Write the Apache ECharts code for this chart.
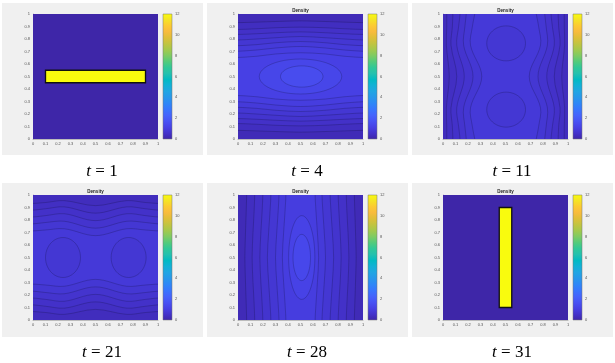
<!DOCTYPE html>
<html>
<head>
<meta charset="utf-8">
<script src="https://cdn.jsdelivr.net/npm/echarts@6/dist/echarts.min.js"></script>
<style>
  html, body { margin: 0; padding: 0; background: #fff; }
  #main { width: 615px; height: 363px; }
</style>
</head>
<body>
<div id="main"></div>
<script>
// ---------- data ----------
const timeLabels = ['1', '4', '11', '21', '28', '31'];
const colorTicks = [0, 2, 4, 6, 8, 10, 12];
const densityMax = 12;

// t = 1 and t = 31 : a bar of density 12 on an empty (0) box  [x0, y0, x1, y1]
const bar1 = [0.1, 0.45, 0.9, 0.55];
const bar31 = [0.45, 0.1, 0.55, 0.9];
const barLevel = 12;
const emptyLevel = 0;

// t = 4 : horizontal contours (heights at t4X), two ellipses in the middle
const t4X = [-0.05, 0.15, 0.3, 0.5, 0.7, 0.85, 1.05];
const t4Top = [
  [0.93, 0.935, 0.94, 0.945, 0.94, 0.935, 0.93],
  [0.875, 0.882, 0.89, 0.895, 0.89, 0.882, 0.875],
  [0.835, 0.842, 0.85, 0.857, 0.85, 0.842, 0.835],
  [0.79, 0.8, 0.81, 0.82, 0.81, 0.8, 0.79],
  [0.745, 0.755, 0.77, 0.78, 0.77, 0.755, 0.745],
  [0.7, 0.712, 0.728, 0.74, 0.728, 0.712, 0.7],
  [0.65, 0.662, 0.68, 0.69, 0.68, 0.662, 0.65]
];
const t4Bottom = [
  [0.07, 0.065, 0.06, 0.055, 0.06, 0.065, 0.07],
  [0.125, 0.118, 0.11, 0.105, 0.11, 0.118, 0.125],
  [0.165, 0.158, 0.15, 0.143, 0.15, 0.158, 0.165],
  [0.21, 0.2, 0.19, 0.18, 0.19, 0.2, 0.21],
  [0.255, 0.245, 0.23, 0.22, 0.23, 0.245, 0.255],
  [0.3, 0.288, 0.272, 0.26, 0.272, 0.288, 0.3],
  [0.35, 0.338, 0.32, 0.31, 0.32, 0.338, 0.35]
];
const t4Base = 0.25;
const t4Levels = [0.4, 0.52, 0.64, 0.76, 0.88, 1.0, 1.12];
const t4Ellipses = [[0.5, 0.5, 0.33, 0.14], [0.51, 0.5, 0.17, 0.085]]; // cx, cy, rx, ry
const t4EllipseLevels = [1.3, 1.5];

// t = 11 : vertical contours (x at t11Y), two round blobs
const t11Y = [-0.05, 0.1, 0.25, 0.5, 0.75, 0.9, 1.05];
const t11Left = [
  [0.03, 0.03, 0.027, 0.05, 0.027, 0.03, 0.03],
  [0.08, 0.075, 0.064, 0.11, 0.064, 0.075, 0.08],
  [0.14, 0.125, 0.11, 0.17, 0.11, 0.125, 0.14],
  [0.19, 0.175, 0.165, 0.24, 0.165, 0.175, 0.19],
  [0.26, 0.235, 0.22, 0.31, 0.22, 0.235, 0.26]
];
const t11Right = [
  [0.97, 0.97, 0.973, 0.95, 0.973, 0.97, 0.97],
  [0.92, 0.925, 0.936, 0.89, 0.936, 0.925, 0.92],
  [0.86, 0.875, 0.89, 0.83, 0.89, 0.875, 0.86],
  [0.81, 0.825, 0.835, 0.76, 0.835, 0.825, 0.81],
  [0.74, 0.765, 0.78, 0.69, 0.78, 0.765, 0.74]
];
const t11Base = 0.35;
const t11Levels = [0.45, 0.55, 0.65, 0.75, 0.85];
const t11Blobs = [[0.505, 0.765, 0.155, 0.14], [0.505, 0.235, 0.155, 0.14]];
const t11BlobLevels = [0.75, 0.75];

// t = 21 : horizontal contours, two round blobs side by side
const t21X = [-0.05, 0.1, 0.25, 0.5, 0.75, 0.9, 1.05];
const t21Top = [
  [0.93, 0.94, 0.955, 0.915, 0.955, 0.94, 0.93],
  [0.875, 0.89, 0.905, 0.855, 0.905, 0.89, 0.875],
  [0.82, 0.835, 0.85, 0.795, 0.85, 0.835, 0.82],
  [0.765, 0.78, 0.79, 0.735, 0.79, 0.78, 0.765],
  [0.71, 0.72, 0.73, 0.675, 0.73, 0.72, 0.71]
];
const t21Bottom = [
  [0.07, 0.06, 0.045, 0.085, 0.045, 0.06, 0.07],
  [0.125, 0.11, 0.095, 0.145, 0.095, 0.11, 0.125],
  [0.18, 0.165, 0.15, 0.205, 0.15, 0.165, 0.18],
  [0.235, 0.22, 0.21, 0.265, 0.21, 0.22, 0.235],
  [0.29, 0.28, 0.27, 0.325, 0.27, 0.28, 0.29]
];
const t21Base = 0.35;
const t21Levels = [0.45, 0.55, 0.65, 0.75, 0.85];
const t21Blobs = [[0.24, 0.5, 0.14, 0.16], [0.765, 0.5, 0.14, 0.16]];
const t21BlobLevels = [0.75, 0.75];

// t = 28 : vertical contours, tall ellipses in the middle
const t28Y = [-0.05, 0.15, 0.3, 0.5, 0.7, 0.85, 1.05];
const t28Left = [
  [0.07, 0.065, 0.06, 0.055, 0.06, 0.065, 0.07],
  [0.135, 0.128, 0.12, 0.113, 0.12, 0.128, 0.135],
  [0.2, 0.192, 0.183, 0.175, 0.183, 0.192, 0.2],
  [0.265, 0.255, 0.245, 0.235, 0.245, 0.255, 0.265],
  [0.33, 0.32, 0.31, 0.3, 0.31, 0.32, 0.33],
  [0.385, 0.375, 0.365, 0.355, 0.365, 0.375, 0.385]
];
const t28Right = [
  [0.93, 0.935, 0.94, 0.945, 0.94, 0.935, 0.93],
  [0.865, 0.872, 0.88, 0.887, 0.88, 0.872, 0.865],
  [0.8, 0.808, 0.817, 0.825, 0.817, 0.808, 0.8],
  [0.735, 0.745, 0.755, 0.765, 0.755, 0.745, 0.735],
  [0.67, 0.68, 0.69, 0.7, 0.69, 0.68, 0.67],
  [0.615, 0.625, 0.635, 0.645, 0.635, 0.625, 0.615]
];
const t28Base = 0.25;
const t28Levels = [0.4, 0.52, 0.64, 0.76, 0.88, 1.0];
const t28Ellipses = [[0.51, 0.5, 0.105, 0.335], [0.51, 0.5, 0.07, 0.185]];
const t28EllipseLevels = [1.18, 1.36];

// ---------- parula colour map ----------
const parulaStops = [
  [0, '#3e26a8'], [0.048, '#4332cb'], [0.095, '#4741e5'], [0.143, '#4852f4'],
  [0.19, '#4563fc'], [0.238, '#3875fe'], [0.286, '#2e87f7'], [0.333, '#2797eb'],
  [0.381, '#20a5e3'], [0.429, '#12b1d6'], [0.476, '#02bac3'], [0.524, '#24c1ae'],
  [0.571, '#30c898'], [0.619, '#53cb7a'], [0.667, '#7fcb62'], [0.714, '#a3c94c'],
  [0.762, '#c2c440'], [0.81, '#dfbf38'], [0.857, '#f8bb3d'], [0.905, '#fcca33'],
  [0.952, '#f5e326'], [1, '#f9fb0e']
];
function hexRgb(h) {
  return [1, 3, 5].map(i => parseInt(h.slice(i, i + 2), 16));
}
function parula(v) {
  const f = Math.max(0, Math.min(1, v / densityMax));
  for (let i = 1; i < parulaStops.length; i++) {
    const [f1, c1] = parulaStops[i];
    if (f <= f1) {
      const [f0, c0] = parulaStops[i - 1];
      const t = (f - f0) / (f1 - f0);
      const a = hexRgb(c0), b = hexRgb(c1);
      return 'rgb(' + a.map((x, k) => Math.round(x + (b[k] - x) * t)).join(',') + ')';
    }
  }
  return parulaStops[parulaStops.length - 1][1];
}

// ---------- shapes built from the arrays ----------
const LINE = 'rgba(15,15,45,0.42)';

function box(level) {
  return { pts: [[0, 0], [1, 0], [1, 1], [0, 1]], level };
}
function bar(r, level) {
  return { pts: [[r[0], r[1]], [r[2], r[1]], [r[2], r[3]], [r[0], r[3]]], level, stroke: '#111', lw: 1.3 };
}
function hBands(xs, tops, bottoms, levels) {
  const n = xs.length - 1;
  return tops.map((top, k) => {
    const bot = bottoms[k];
    const upper = xs.map((x, j) => [x, top[j]]);
    const lower = xs.map((x, j) => [x, bot[j]]).reverse();
    // run the ends far outside the box so smoothing corners are clipped off
    const pts = [[xs[0] - 0.4, top[0]], ...upper, [xs[n] + 0.4, top[n]],
      [xs[n] + 0.4, bot[n]], ...lower, [xs[0] - 0.4, bot[0]]];
    return { pts, level: levels[k], smooth: 0.35, stroke: LINE, lw: 0.55 };
  });
}
function vBands(ys, lefts, rights, levels) {
  const n = ys.length - 1;
  return lefts.map((left, k) => {
    const right = rights[k];
    const l = ys.map((y, j) => [left[j], y]);
    const r = ys.map((y, j) => [right[j], y]).reverse();
    const pts = [[left[0], ys[0] - 0.4], ...l, [left[n], ys[n] + 0.4],
      [right[n], ys[n] + 0.4], ...r, [right[0], ys[0] - 0.4]];
    return { pts, level: levels[k], smooth: 0.35, stroke: LINE, lw: 0.55 };
  });
}
function ovals(list, levels) {
  return list.map((e, k) => ({ oval: e, level: levels[k], stroke: LINE, lw: 0.55 }));
}

const panels = [
  [box(emptyLevel), bar(bar1, barLevel)],
  [box(t4Base), ...hBands(t4X, t4Top, t4Bottom, t4Levels), ...ovals(t4Ellipses, t4EllipseLevels)],
  [box(t11Base), ...vBands(t11Y, t11Left, t11Right, t11Levels), ...ovals(t11Blobs, t11BlobLevels)],
  [box(t21Base), ...hBands(t21X, t21Top, t21Bottom, t21Levels), ...ovals(t21Blobs, t21BlobLevels)],
  [box(t28Base), ...vBands(t28Y, t28Left, t28Right, t28Levels), ...ovals(t28Ellipses, t28EllipseLevels)],
  [box(emptyLevel), bar(bar31, barLevel)]
];
const hasTitle = [false, true, true, true, true, true];

// ---------- layout ----------
const colX = [33, 238, 443];
const rowY = [14, 195];
const plotSize = 125;

const grids = [], xAxes = [], yAxes = [], series = [], graphics = [];
const labelFmt = v => String(Math.round(v * 10) / 10);
const tickText = { fontSize: 4, color: '#555', fontFamily: 'Liberation Sans' };

panels.forEach((shapes, i) => {
  const cx = colX[i % 3], cy = rowY[Math.floor(i / 3)];
  const row = Math.floor(i / 3);

  // grey figure background
  graphics.push({
    type: 'rect', z: -10, silent: true,
    shape: { x: cx - 31, y: row ? 183 : 3, width: 201, height: row ? 154 : 152 },
    style: { fill: '#f0f0f0' }
  });
  if (hasTitle[i]) {
    graphics.push({
      type: 'text', silent: true, x: cx + plotSize / 2, y: cy - 3,
      style: { text: 'Density', fill: '#222', font: 'bold 4.5px "Liberation Sans"', textAlign: 'center', textVerticalAlign: 'middle' }
    });
  }
  graphics.push({
    type: 'text', silent: true, x: cx + 69, y: row ? 353 : 172,
    style: {
      text: '{i|t} = ' + timeLabels[i], fill: '#000', font: '17px "Liberation Serif"',
      textAlign: 'center', textVerticalAlign: 'middle',
      rich: { i: { fontStyle: 'italic', fontFamily: 'Liberation Serif', fontSize: 17 } }
    }
  });

  // plot grid
  const g = grids.length;
  grids.push({ left: cx, top: cy, width: plotSize, height: plotSize });
  xAxes.push({
    gridIndex: g, type: 'value', min: 0, max: 1, interval: 0.1,
    splitLine: { show: false }, axisTick: { show: false },
    axisLine: { show: true, lineStyle: { color: '#888', width: 0.5 } },
    axisLabel: Object.assign({ margin: 3, formatter: labelFmt }, tickText)
  });
  yAxes.push({
    gridIndex: g, type: 'value', min: 0, max: 1, interval: 0.1,
    splitLine: { show: false }, axisTick: { show: false },
    axisLine: { show: true, lineStyle: { color: '#888', width: 0.5 } },
    axisLabel: Object.assign({ margin: 3, formatter: labelFmt }, tickText)
  });
  series.push({
    type: 'custom', xAxisIndex: g, yAxisIndex: g, clip: true, silent: true,
    data: shapes.map(() => [0.5, 0.5]),
    renderItem: (params, api) => {
      const s = shapes[params.dataIndex];
      let pts;
      if (s.oval) {
        const [ox, oy, rx, ry] = s.oval;
        pts = [];
        for (let a = 0; a < 48; a++) {
          const t = a / 48 * Math.PI * 2;
          pts.push(api.coord([ox + rx * Math.cos(t), oy + ry * Math.sin(t)]));
        }
      } else {
        pts = s.pts.map(p => api.coord(p));
      }
      return {
        type: 'polygon',
        shape: { points: pts, smooth: s.smooth || 0 },
        style: { fill: parula(s.level), stroke: s.stroke || null, lineWidth: s.lw || 0 }
      };
    }
  });

  // colour bar
  const c = grids.length;
  grids.push({ left: cx + 130, top: cy, width: 9, height: plotSize });
  xAxes.push({ gridIndex: c, type: 'value', min: 0, max: 1, show: false });
  yAxes.push({
    gridIndex: c, type: 'value', position: 'right', min: colorTicks[0],
    max: colorTicks[colorTicks.length - 1], interval: colorTicks[1] - colorTicks[0],
    splitLine: { show: false }, axisTick: { show: false }, axisLine: { show: false },
    axisLabel: Object.assign({ margin: 3 }, tickText)
  });
  series.push({
    type: 'custom', xAxisIndex: c, yAxisIndex: c, silent: true,
    data: [[0.5, 0.5]],
    renderItem: (params, api) => {
      const p0 = api.coord([0, densityMax]);
      const p1 = api.coord([1, 0]);
      return {
        type: 'rect',
        shape: { x: p0[0], y: p0[1], width: p1[0] - p0[0], height: p1[1] - p0[1] },
        style: {
          fill: {
            type: 'linear', x: 0, y: 1, x2: 0, y2: 0,
            colorStops: parulaStops.map(([o, col]) => ({ offset: o, color: col }))
          },
          stroke: '#777', lineWidth: 0.5
        }
      };
    }
  });
});

const chart = echarts.init(document.getElementById('main'));
chart.setOption({
  backgroundColor: '#fff',
  animation: false,
  grid: grids,
  xAxis: xAxes,
  yAxis: yAxes,
  series: series,
  graphic: { elements: graphics }
});
</script>
</body>
</html>
